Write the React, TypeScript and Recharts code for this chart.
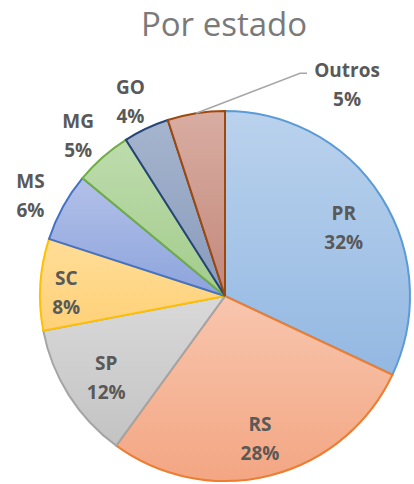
import { PieChart, Pie, Cell } from "recharts";

const states = ["PR", "RS", "SP", "SC", "MS", "MG", "GO", "Outros"];
const shares = [32, 28, 12, 8, 6, 5, 4, 5];

const strokes = ["#5B9BD5", "#ED7D31", "#A5A5A5", "#FFC000", "#4472C4", "#70AD47", "#264478", "#9E480E"];
const topColors = ["#bad2ed", "#f8c6ae", "#d9d9d9", "#ffdd98", "#b3c1e9", "#bedcad", "#a6b5ce", "#d9ada2"];
const bottomColors = ["#93b8e2", "#f3a683", "#c3c3c3", "#ffd178", "#8ca3dc", "#a3cc8c", "#889bbc", "#c3887b"];

const data = states.map((name, i) => ({ name, value: shares[i] }));

const RAD = Math.PI / 180;
const labelFont = "'Open Sans', 'Liberation Sans', sans-serif";

function renderLabel(props: any) {
  const { cx, cy, midAngle, outerRadius, percent, name, value } = props;
  const cos = Math.cos(-midAngle * RAD);
  const sin = Math.sin(-midAngle * RAD);
  const text = { fill: "#595959", fontSize: 19, fontWeight: 700, fontFamily: labelFont, textAnchor: "middle" as const };

  if (name === "Outros") {
    // leader line to the label sitting above right
    const sx = cx + outerRadius * cos;
    const sy = cy + outerRadius * sin;
    const ex = sx + 104;
    const ey = sy - 40;
    return (
      <g>
        <polyline points={`${sx},${sy} ${ex},${ey} ${ex + 7},${ey}`} fill="none" stroke="#a6a6a6" strokeWidth={1.5} />
        <text x={ex + 47} y={ey + 4} {...text}>{name}</text>
        <text x={ex + 47} y={ey + 33} {...text}>{value}%</text>
      </g>
    );
  }

  let r;
  if (percent >= 0.1) r = outerRadius * 0.76;
  else if (percent >= 0.08) r = outerRadius * 0.86;
  else r = outerRadius + 37;
  const x = cx + r * cos;
  const y = cy + r * sin;
  return (
    <g>
      <text x={x} y={y - 1} {...text}>{name}</text>
      <text x={x} y={y + 28} {...text}>{value}%</text>
    </g>
  );
}

export default function App() {
  return (
    <div style={{ position: "absolute", left: 0, top: 0, width: 414, height: 484, background: "#fff" }}>
      <div
        style={{
          position: "absolute",
          left: 224,
          top: 2,
          transform: "translateX(-50%)",
          fontFamily: "'Open Sans', sans-serif",
          fontSize: 33,
          lineHeight: "44px",
          color: "#7a7a7a",
          whiteSpace: "nowrap",
        }}
      >
        Por estado
      </div>
      <PieChart width={414} height={484} margin={{ top: 0, right: 0, bottom: 0, left: 0 }}>
        <defs>
          {states.map((s, i) => (
            <linearGradient key={s} id={`grad-${i}`} x1="0" y1="0" x2="0" y2="1">
              <stop offset="0%" stopColor={topColors[i]} />
              <stop offset="100%" stopColor={bottomColors[i]} />
            </linearGradient>
          ))}
        </defs>
        <Pie
          data={data}
          dataKey="value"
          nameKey="name"
          cx={225}
          cy={296}
          outerRadius={185}
          startAngle={90}
          endAngle={-270}
          label={renderLabel}
          labelLine={false}
          isAnimationActive={false}
        >
          {data.map((d, i) => (
            <Cell key={d.name} fill={`url(#grad-${i})`} stroke={strokes[i]} strokeWidth={2} />
          ))}
        </Pie>
      </PieChart>
    </div>
  );
}
